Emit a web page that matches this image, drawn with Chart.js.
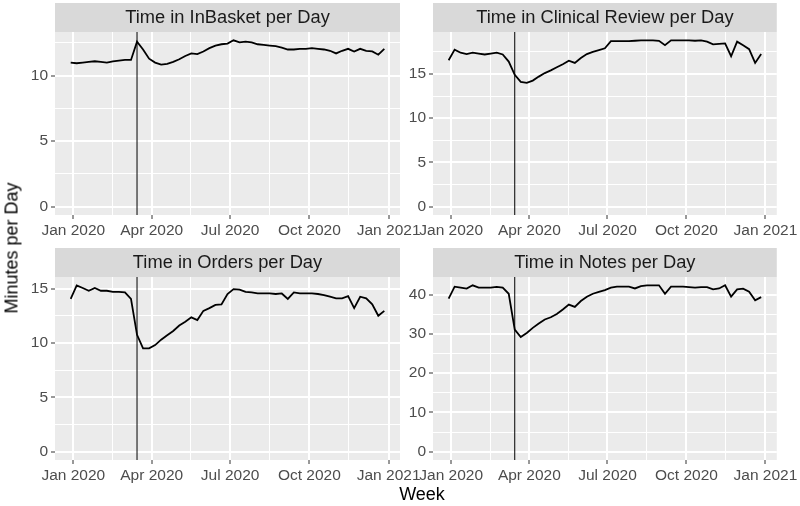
<!DOCTYPE html>
<html>
<head>
<meta charset="utf-8">
<script src="https://cdn.jsdelivr.net/npm/chart.js@4.4.1/dist/chart.umd.min.js"></script>
<style>
  body { margin: 0; background: #fff; }
  #wrap { position: relative; width: 800px; height: 506px; overflow: hidden; font-family: "Liberation Sans", Arial, sans-serif; }
  canvas { position: absolute; }
  .axis-title { position: absolute; font-size: 18px; color: #000; white-space: nowrap; }
  #ytitle { left: 12px; top: 248px; transform: translate(-50%, -50%) rotate(-90deg); }
  #xtitle { left: 422px; top: 494px; transform: translate(-50%, -50%); }
</style>
</head>
<body>
<div id="wrap">
  <canvas id="c1" width="425" height="245" style="left:0;top:0"></canvas>
  <canvas id="c2" width="395" height="245" style="left:405px;top:0"></canvas>
  <canvas id="c3" width="425" height="245" style="left:0;top:245px"></canvas>
  <canvas id="c4" width="395" height="245" style="left:405px;top:245px"></canvas>
  <div class="axis-title" id="ytitle">Minutes per Day</div>
  <div class="axis-title" id="xtitle">Week</div>
</div>
<script>
// weekly data, weeks starting Sunday
const weeks = [
  "2019-12-29", "2020-01-05", "2020-01-12", "2020-01-19", "2020-01-26",
  "2020-02-02", "2020-02-09", "2020-02-16", "2020-02-23", "2020-03-01",
  "2020-03-08", "2020-03-15", "2020-03-22", "2020-03-29", "2020-04-05",
  "2020-04-12", "2020-04-19", "2020-04-26", "2020-05-03", "2020-05-10",
  "2020-05-17", "2020-05-24", "2020-05-31", "2020-06-07", "2020-06-14",
  "2020-06-21", "2020-06-28", "2020-07-05", "2020-07-12", "2020-07-19",
  "2020-07-26", "2020-08-02", "2020-08-09", "2020-08-16", "2020-08-23",
  "2020-08-30", "2020-09-06", "2020-09-13", "2020-09-20", "2020-09-27",
  "2020-10-04", "2020-10-11", "2020-10-18", "2020-10-25", "2020-11-01",
  "2020-11-08", "2020-11-15", "2020-11-22", "2020-11-29", "2020-12-06",
  "2020-12-13", "2020-12-20", "2020-12-27"
];

const inBasket = [
  11.0, 10.95, 11.0, 11.05, 11.1, 11.05, 11.0, 11.1, 11.15, 11.2, 11.2,
  12.6, 12.0, 11.3, 11.0, 10.85, 10.9, 11.05, 11.25, 11.5, 11.7, 11.65, 11.85, 12.1, 12.3, 12.4, 12.45,
  12.7, 12.55, 12.6, 12.55, 12.4, 12.35, 12.3, 12.25, 12.15, 12.0, 12.0, 12.05, 12.05, 12.1, 12.05,
  12.0, 11.9, 11.7, 11.9, 12.05, 11.85, 12.05, 11.9, 11.85, 11.6, 12.05
];
const clinicalReview = [
  16.55, 17.75, 17.4, 17.25, 17.4, 17.3, 17.2, 17.3, 17.4, 17.2, 16.4,
  14.9, 14.1, 14.0, 14.25, 14.7, 15.1, 15.4, 15.75, 16.1, 16.5, 16.25, 16.8, 17.25, 17.5, 17.7, 17.9,
  18.7, 18.7, 18.7, 18.7, 18.75, 18.8, 18.8, 18.8, 18.75, 18.25, 18.8, 18.8, 18.8, 18.8, 18.75,
  18.8, 18.65, 18.35, 18.4, 18.45, 17.0, 18.65, 18.25, 17.8, 16.25, 17.25
];
const orders = [
  14.05, 15.3, 15.05, 14.8, 15.05, 14.8, 14.8, 14.7, 14.7, 14.65, 14.05,
  10.75, 9.5, 9.5, 9.8, 10.3, 10.7, 11.1, 11.6, 11.95, 12.35, 12.1, 12.95, 13.2, 13.5, 13.55, 14.5,
  14.95, 14.9, 14.7, 14.65, 14.55, 14.55, 14.55, 14.5, 14.55, 14.05, 14.65, 14.55, 14.55, 14.55, 14.5,
  14.4, 14.25, 14.1, 14.1, 14.3, 13.2, 14.25, 14.1, 13.55, 12.5, 12.95
];
const notes = [
  39.0, 42.05, 41.8, 41.55, 42.4, 41.8, 41.8, 41.8, 42.0, 41.8, 40.25,
  31.1, 29.2, 30.25, 31.55, 32.65, 33.7, 34.25, 35.1, 36.25, 37.5, 36.9, 38.4, 39.5, 40.25, 40.75, 41.2,
  41.8, 42.05, 42.05, 42.05, 41.6, 42.2, 42.4, 42.4, 42.4, 40.25, 42.05, 42.05, 42.05, 41.95, 41.8,
  41.95, 41.95, 41.35, 41.6, 42.4, 39.5, 41.35, 41.55, 40.75, 38.6, 39.4
];

const panelTitles = [
  "Time in InBasket per Day",
  "Time in Clinical Review per Day",
  "Time in Orders per Day",
  "Time in Notes per Day"
];
const yBreaks = [
  [0, 5, 10],
  [0, 5, 10, 15],
  [0, 5, 10, 15],
  [0, 10, 20, 30, 40]
];
const xTickDates = ["2020-01-01", "2020-04-01", "2020-07-01", "2020-10-01", "2021-01-01"];
const xTickLabels = ["Jan 2020", "Apr 2020", "Jul 2020", "Oct 2020", "Jan 2021"];
const lockdownDate = "2020-03-15";

// dates become days since 1 Jan 2020 on a linear axis
const DAY = 86400000;
const origin = Date.parse("2020-01-01");
const toDay = d => (Date.parse(d) - origin) / DAY;

const weekDays = weeks.map(toDay);
const xMajor = xTickDates.map(toDay);
const xMinor = xMajor.slice(1).map((v, i) => (v + xMajor[i]) / 2);
const xPad = (weekDays[weekDays.length - 1] - weekDays[0]) * 0.05;

Chart.defaults.font.family = '"Liberation Sans", Arial, Helvetica, sans-serif';
Chart.defaults.color = "#4D4D4D";

const facetPlugin = {
  id: "facet",
  beforeDraw(chart, args, opts) {
    const { ctx, chartArea: a } = chart;
    ctx.save();
    ctx.fillStyle = "#EBEBEB";
    ctx.fillRect(a.left, a.top, a.right - a.left, a.bottom - a.top);
    ctx.fillStyle = "#D9D9D9";
    ctx.fillRect(a.left, a.top - 29, a.right - a.left, 29);
    ctx.fillStyle = "#1A1A1A";
    ctx.font = '18.3px "Liberation Sans", Arial, sans-serif';
    ctx.textAlign = "center";
    ctx.textBaseline = "middle";
    ctx.fillText(opts.title, (a.left + a.right) / 2, a.top - 14);
    ctx.restore();
  },
  beforeDatasetsDraw(chart) {
    const { ctx, chartArea: a } = chart;
    const x = chart.scales.x.getPixelForValue(toDay(lockdownDate));
    ctx.save();
    ctx.strokeStyle = "#000";
    ctx.lineWidth = 1;
    ctx.beginPath();
    ctx.moveTo(x, a.top);
    ctx.lineTo(x, a.bottom);
    ctx.stroke();
    ctx.restore();
  }
};

function makePanel(id, idx, values, left, right) {
  const majors = yBreaks[idx];
  const step = majors[1] - majors[0];
  const yMax = Math.max(...values);
  const yMin = 0;
  const ySpan = yMax - yMin;
  const yLo = yMin - ySpan * 0.05;
  const yHi = yMax + ySpan * 0.05;
  const yMinor = majors.map(v => v + step / 2).filter(v => v < yHi);
  const isMajorY = v => majors.includes(v);
  const isMajorX = v => xMajor.includes(v);

  return new Chart(document.getElementById(id), {
    type: "line",
    data: {
      datasets: [{
        data: weekDays.map((d, i) => ({ x: d, y: values[i] })),
        borderColor: "#000",
        borderWidth: 1.8,
        pointRadius: 0,
        tension: 0
      }]
    },
    options: {
      responsive: false,
      animation: false,
      layout: { padding: { top: 32, right: right, left: 0, bottom: 0 } },
      plugins: {
        legend: { display: false },
        tooltip: { enabled: false },
        facet: { title: panelTitles[idx] }
      },
      scales: {
        x: {
          type: "linear",
          min: weekDays[0] - xPad,
          max: weekDays[weekDays.length - 1] + xPad,
          afterBuildTicks: s => {
            s.ticks = [...xMajor, ...xMinor].sort((a, b) => a - b).map(v => ({ value: v }));
          },
          afterFit: s => { s.height = 30; },
          ticks: {
            autoSkip: false,
            maxRotation: 0,
            padding: 2,
            color: "#4D4D4D",
            font: { size: 15.5 },
            callback: v => isMajorX(v) ? xTickLabels[xMajor.indexOf(v)] : ""
          },
          grid: {
            color: "#FFFFFF",
            lineWidth: c => isMajorX(c.tick.value) ? 2 : 1,
            tickColor: c => isMajorX(c.tick.value) ? "#333333" : "rgba(0,0,0,0)",
            tickLength: 4,
            tickWidth: 1
          },
          border: { display: false }
        },
        y: {
          type: "linear",
          min: yLo,
          max: yHi,
          afterBuildTicks: s => {
            s.ticks = [...majors, ...yMinor].sort((a, b) => a - b).map(v => ({ value: v }));
          },
          afterFit: s => { s.width = left; },
          ticks: {
            autoSkip: false,
            padding: 3,
            color: "#4D4D4D",
            font: { size: 15.5 },
            callback: v => isMajorY(v) ? String(v) : ""
          },
          grid: {
            color: "#FFFFFF",
            lineWidth: c => isMajorY(c.tick.value) ? 2 : 1,
            tickColor: c => isMajorY(c.tick.value) ? "#333333" : "rgba(0,0,0,0)",
            tickLength: 4,
            tickWidth: 1
          },
          border: { display: false }
        }
      }
    },
    plugins: [facetPlugin]
  });
}

makePanel("c1", 0, inBasket, 55, 25);
makePanel("c2", 1, clinicalReview, 28, 20);
makePanel("c3", 2, orders, 55, 25);
makePanel("c4", 3, notes, 28, 20);
</script>
</body>
</html>
